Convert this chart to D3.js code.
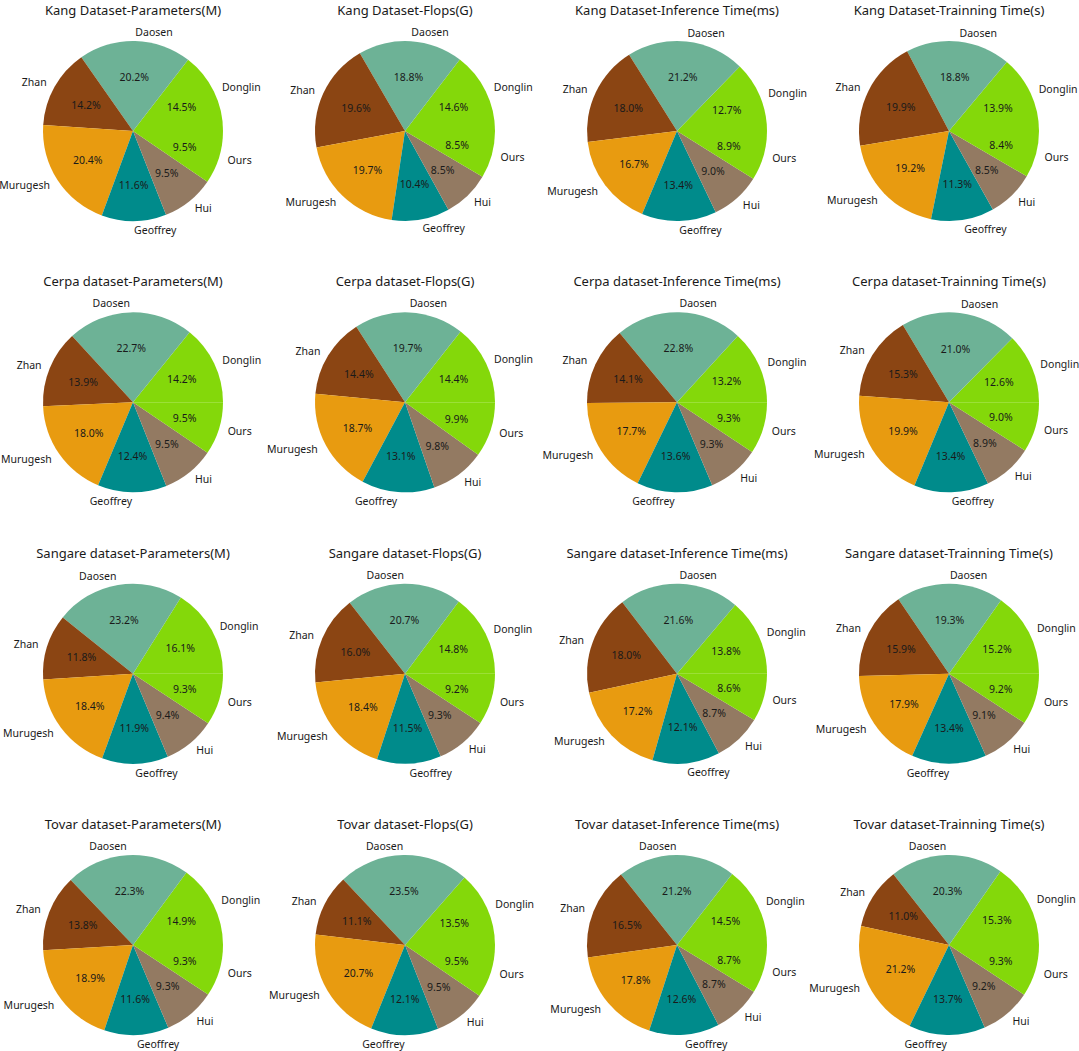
<!DOCTYPE html>
<html>
<head>
<meta charset="utf-8">
<script src="https://cdn.jsdelivr.net/npm/d3@7"></script>
<style>
  body { margin: 0; background: #fff; }
  text { font-family: "Noto Sans", "Open Sans", sans-serif; fill: #1a1a1a; }
</style>
</head>
<body>
<div id="chart"></div>
<script>
// slice order as drawn, counter-clockwise from 3 o'clock
var methods = ['Donglin', 'Daosen', 'Zhan', 'Murugesh', 'Geoffrey', 'Hui', 'Ours'];
var colors  = ['#84d80a', '#6db296', '#8b4513', '#e89b10', '#008b8b', '#937a62', '#84d80a'];

var datasets = ['Kang Dataset', 'Cerpa dataset', 'Sangare dataset', 'Tovar dataset'];
var metrics  = ['Parameters(M)', 'Flops(G)', 'Inference Time(ms)', 'Trainning Time(s)'];

// percentages per dataset, per metric, in the order of `methods`
var kang = [
  [14.5, 20.2, 14.2, 20.4, 11.6, 9.5, 9.5],
  [14.6, 18.8, 19.6, 19.7, 10.4, 8.5, 8.5],
  [12.7, 21.2, 18.0, 16.7, 13.4, 9.0, 8.9],
  [13.9, 18.8, 19.9, 19.2, 11.3, 8.5, 8.4]
];
var cerpa = [
  [14.2, 22.7, 13.9, 18.0, 12.4, 9.5, 9.5],
  [14.4, 19.7, 14.4, 18.7, 13.1, 9.8, 9.9],
  [13.2, 22.8, 14.1, 17.7, 13.6, 9.3, 9.3],
  [12.6, 21.0, 15.3, 19.9, 13.4, 8.9, 9.0]
];
var sangare = [
  [16.1, 23.2, 11.8, 18.4, 11.9, 9.4, 9.3],
  [14.8, 20.7, 16.0, 18.4, 11.5, 9.3, 9.2],
  [13.8, 21.6, 18.0, 17.2, 12.1, 8.7, 8.6],
  [15.2, 19.3, 15.9, 17.9, 13.4, 9.1, 9.2]
];
var tovar = [
  [14.9, 22.3, 13.8, 18.9, 11.6, 9.3, 9.3],
  [13.5, 23.5, 11.1, 20.7, 12.1, 9.5, 9.5],
  [14.5, 21.2, 16.5, 17.8, 12.6, 8.7, 8.7],
  [15.3, 20.3, 11.0, 21.2, 13.7, 9.2, 9.3]
];
var allData = [kang, cerpa, sangare, tovar];

var W = 1079, H = 1051, R = 90;

var svg = d3.select('#chart').append('svg')
    .attr('width', W)
    .attr('height', H);

// grid position of each pie centre
var xPos = d3.scaleLinear().domain([0, 3]).range([133, 949]);
var yPos = d3.scaleLinear().domain([0, 3]).range([131, 945]);

var color = d3.scaleOrdinal().domain(d3.range(methods.length)).range(colors);

// matplotlib style: start at 3 o'clock, go counter-clockwise
var pie = d3.pie()
    .sort(null)
    .value(function(d) { return d; })
    .startAngle(Math.PI / 2)
    .endAngle(Math.PI / 2 - 2 * Math.PI);

var arc = d3.arc().innerRadius(0).outerRadius(R);
var pctArc = d3.arc().innerRadius(R * 0.6).outerRadius(R * 0.6);
var lblArc = d3.arc().innerRadius(R * 1.1).outerRadius(R * 1.1);

allData.forEach(function(rows, r) {
  rows.forEach(function(values, c) {
    var g = svg.append('g')
        .attr('transform', 'translate(' + xPos(c) + ',' + yPos(r) + ')');

    g.append('text')
        .attr('x', 0)
        .attr('y', -121)
        .attr('text-anchor', 'middle')
        .attr('dominant-baseline', 'central')
        .style('font-size', '13px')
        .text(datasets[r] + '-' + metrics[c]);

    var slices = g.selectAll('g.slice')
        .data(pie(values))
        .enter()
        .append('g')
        .attr('class', 'slice');

    slices.append('path')
        .attr('d', arc)
        .attr('fill', function(d, i) { return color(i); });

    slices.append('text')
        .attr('transform', function(d) { return 'translate(' + pctArc.centroid(d) + ')'; })
        .attr('text-anchor', 'middle')
        .attr('dominant-baseline', 'central')
        .style('font-size', '10.5px')
        .text(function(d) { return d.data.toFixed(1) + '%'; });

    slices.append('text')
        .attr('transform', function(d) { return 'translate(' + lblArc.centroid(d) + ')'; })
        .attr('text-anchor', function(d) { return lblArc.centroid(d)[0] > 0 ? 'start' : 'end'; })
        .attr('dominant-baseline', 'central')
        .style('font-size', '10.5px')
        .text(function(d, i) { return methods[i]; });
  });
});
</script>
</body>
</html>
